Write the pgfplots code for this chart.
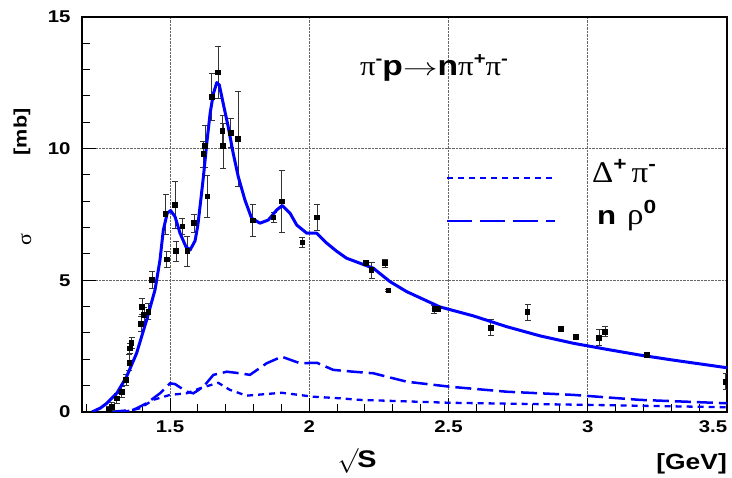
\documentclass[border=0pt]{standalone}
\usepackage{graphicx}
\usepackage{fontspec}
\setmainfont{Liberation Sans}
\newfontfamily\rf[FakeStretch=1.2]{Liberation Sans}
\newfontfamily\gf[FakeStretch=1.1]{Liberation Serif}
\usepackage{pgfplots}
\pgfplotsset{compat=1.18}
\pgfplotstableread{
x y e
1.280 0.10 0.10
1.291 0.20 0.15
1.309 0.52 0.20
1.327 0.77 0.20
1.342 1.22 0.20
1.354 1.87 0.30
1.356 2.42 0.20
1.362 2.63 0.20
1.396 3.34 0.30
1.400 4.00 0.30
1.407 3.68 0.30
1.422 3.81 0.30
1.436 5.01 0.32
1.484 7.51 0.75
1.488 5.80 0.30
1.518 7.86 0.90
1.522 6.11 0.38
1.544 7.04 0.30
1.562 6.11 0.57
1.586 7.17 0.35
1.620 9.79 0.50
1.626 10.10 0.80
1.634 8.18 0.80
1.650 11.97 0.90
1.673 12.89 1.00
1.689 10.68 0.60
1.691 10.10 0.87
1.718 10.60 0.55
1.745 10.38 1.80
1.797 7.27 0.60
1.872 7.39 0.20
1.901 7.99 1.18
1.975 6.44 0.20
2.028 7.39 0.50
2.203 5.65 0.10
2.224 5.39 0.30
2.272 5.65 0.15
2.284 4.61 0.05
2.449 3.91 0.15
2.463 3.91 0.10
2.652 3.20 0.30
2.784 3.79 0.30
2.904 3.15 0.10
2.957 2.84 0.05
3.041 2.82 0.30
3.062 3.05 0.20
3.212 2.16 0.10
3.495 1.15 0.30
}\datatable
\pgfplotstableread{
x y
1.220 0.00
1.250 0.15
1.273 0.33
1.309 0.71
1.344 1.34
1.380 2.23
1.416 3.49
1.446 4.63
1.464 5.77
1.476 6.91
1.490 7.55
1.502 7.65
1.518 7.42
1.536 6.79
1.557 6.28
1.572 6.15
1.590 6.50
1.600 7.10
1.610 8.00
1.620 8.94
1.632 10.20
1.644 11.34
1.656 12.10
1.668 12.51
1.677 12.42
1.691 11.72
1.709 10.83
1.727 9.82
1.745 8.94
1.769 8.05
1.793 7.36
1.823 7.17
1.853 7.29
1.883 7.67
1.903 7.84
1.931 7.55
1.955 7.10
1.991 6.79
2.027 6.79
2.063 6.41
2.099 6.10
2.134 5.84
2.182 5.65
2.230 5.46
2.290 4.95
2.350 4.57
2.469 3.99
2.589 3.65
2.709 3.24
2.829 2.89
2.948 2.61
3.068 2.38
3.188 2.16
3.307 1.97
3.427 1.79
3.500 1.68
}\totaltable
\pgfplotstableread{
x y
1.285 0.00
1.368 0.08
1.416 0.33
1.464 0.71
1.500 1.09
1.518 1.06
1.560 0.77
1.584 0.71
1.620 0.96
1.656 1.41
1.704 1.53
1.751 1.47
1.787 1.41
1.847 1.85
1.901 2.10
1.967 1.85
2.027 1.87
2.086 1.60
2.158 1.53
2.230 1.47
2.350 1.15
2.505 0.96
2.709 0.77
2.948 0.65
3.188 0.46
3.500 0.33
}\rhotable
\pgfplotstableread{
x y
1.333 0.00
1.392 0.14
1.440 0.46
1.500 0.65
1.560 0.71
1.608 0.90
1.673 1.11
1.715 0.84
1.775 0.62
1.901 0.73
2.015 0.58
2.110 0.52
2.182 0.46
2.505 0.35
3.002 0.27
3.500 0.18
}\deltatable
\begin{document}
\begin{tikzpicture}[x=1pt,y=1pt]
\useasboundingbox (0,0) rectangle (732,478);
\begin{axis}[
  at={(82pt,66pt)}, anchor=south west,
  scale only axis, width=645pt, height=395pt,
  xmin=1.184, xmax=3.5, ymin=0, ymax=15,
  axis line style={line width=2.2pt},
  xtick={1.5,2,2.5,3},
  extra x ticks={3.5},
  extra x tick style={grid=none, xticklabel style={xshift=-14pt}},
  minor xtick={1.2,1.3,1.4,1.6,1.7,1.8,1.9,2.1,2.2,2.3,2.4,2.6,2.7,2.8,2.9,3.1,3.2,3.3,3.4},
  ytick={0,5,10,15},
  minor ytick={1,2,3,4,6,7,8,9,11,12,13,14},
  xtick pos=lower, ytick pos=left,
  tick align=inside,
  major tick length=14pt, minor tick length=8pt,
  every tick/.style={black, line width=1pt},
  xmajorgrids, ymajorgrids,
  major grid style={densely dotted, gray!80!black, line width=0.8pt},
  /pgf/number format/assume math mode=true,
  ticklabel style={font=\rf\bfseries\fontsize{17}{17}\selectfont},
  xticklabel style={yshift=-5pt},
  yticklabel style={xshift=-8pt},
  clip=true,
]
\addplot[blue, line width=2.3pt, dash pattern=on 6pt off 5pt] table[x=x,y=y] {\deltatable};
\addplot[blue, line width=2.5pt, dash pattern=on 16pt off 6pt] table[x=x,y=y] {\rhotable};
\addplot[black, line width=0.9pt, only marks, mark=square*, mark size=2.3pt,
  error bars/.cd, y dir=both, y explicit, error bar style={line width=0.9pt, black!80},
  error mark options={rotate=90, mark size=3pt, line width=0.9pt, black!80}]
  table[x=x,y=y,y error=e] {\datatable};
\addplot[blue, line width=3pt, line join=round] table[x=x,y=y] {\totaltable};
\draw[blue, line width=2.3pt, dash pattern=on 6pt off 5pt] (axis cs:2.495,8.89) -- (axis cs:2.882,8.89);
\draw[blue, line width=2.5pt, dash pattern=on 25pt off 8pt] (axis cs:2.495,7.25) -- (axis cs:2.882,7.25);
\node[anchor=west, inner sep=0pt] at (axis cs:3.015,9.15) {\fontsize{30}{30}\selectfont{\gf Δ}\raisebox{12pt}{\rf\bfseries\fontsize{19}{19}\selectfont +}\hspace{5pt}{\gf π}\raisebox{12pt}{\rf\bfseries\fontsize{19}{19}\selectfont -}};
\node[anchor=west, inner sep=0pt] at (axis cs:3.033,7.45) {\fontsize{26}{26}\selectfont{\rf\bfseries n}\hspace{11pt}{\fontsize{30}{30}\selectfont\gf ρ}\raisebox{11pt}{\rf\bfseries\fontsize{19}{19}\selectfont 0}};
\node[inner sep=0pt] at (axis cs:2.448,13.05) {\fontsize{28}{28}\selectfont{\gf π}\raisebox{11pt}{\rf\bfseries\fontsize{17}{17}\selectfont -}{\rf\bfseries p}\scalebox{1.4}[1]{$\rightarrow$}{\rf\bfseries n}{\gf π}\raisebox{11pt}{\rf\bfseries\fontsize{17}{17}\selectfont +}{\gf π}\raisebox{11pt}{\rf\bfseries\fontsize{17}{17}\selectfont -}};
\end{axis}
\node[rotate=90, inner sep=0pt] at (26,238) {\fontsize{20}{20}\selectfont\gf σ};
\node[rotate=90, inner sep=0pt] at (22,346) {\fontsize{18}{18}\selectfont\rf\bfseries [mb]};
\node[inner sep=0pt] at (357,17) {\fontsize{24}{24}\selectfont$\surd$\kern-1pt{\rf\bfseries S}};
\node[anchor=east, inner sep=0pt] at (727,14) {\fontsize{22}{22}\selectfont\rf\bfseries [GeV]};
\end{tikzpicture}
\end{document}
